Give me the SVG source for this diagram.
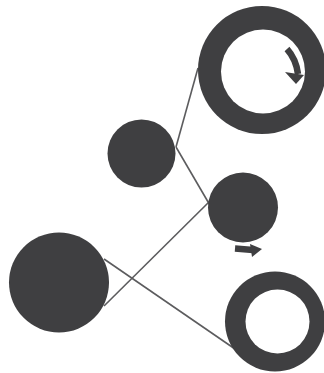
<svg xmlns="http://www.w3.org/2000/svg" width="324" height="373" viewBox="0 0 324 373">
<style>
.d{fill:#3f3f41}
.h{fill:#fff}
.c{stroke:#5c5c5e;stroke-width:1.6;fill:none}
.a{stroke:#3f3f41;stroke-width:6.500;fill:none}
</style>
<rect width="324" height="373" fill="#fff"/>
<g id="connectors">
<path class="c" d="M176 147L198 68"/>
<path class="c" d="M176 147L211 207"/>
<path class="c" d="M104 306L212 199"/>
<path class="c" d="M104 259L235 349"/>
</g>
<g id="ring-top">
<circle class="d" cx="262" cy="70" r="64"/>
<circle class="h" cx="263" cy="71.500" r="42"/>
<path class="a" d="M287 49Q296 59 298 74"/>
<path class="d" d="M285 72L304 75L296 84Z"/>
</g>
<g id="circle-left-top"><circle class="d" cx="141.500" cy="153.500" r="34"/></g>
<g id="circle-right"><circle class="d" cx="243" cy="207.500" r="35"/></g>
<g id="circle-big"><circle class="d" cx="59" cy="282.500" r="50"/></g>
<g id="arrow-right">
<path class="a" d="M235 248.500L253 250"/>
<path class="d" d="M250 244L262 249L252 257Z"/>
</g>
<g id="ring-bottom">
<circle class="d" cx="275" cy="321.500" r="50"/>
<circle class="h" cx="277.500" cy="321.500" r="32"/>
</g>
</svg>
